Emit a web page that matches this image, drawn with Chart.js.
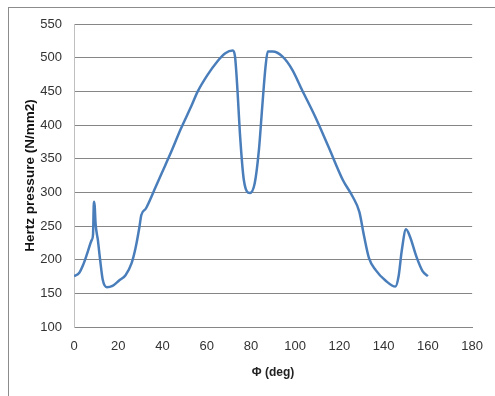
<!DOCTYPE html>
<html>
<head>
<meta charset="utf-8">
<script src="https://cdn.jsdelivr.net/npm/chart.js@4.4.1/dist/chart.umd.min.js"></script>
<style>
  html, body { margin: 0; padding: 0; background: #fff; overflow: hidden; }
  #frame { position: absolute; left: 8px; top: 7px; width: 520px; height: 420px; border: 1px solid #8c8c8c; box-sizing: border-box; }
  #wrap { position: absolute; left: 0; top: 0; width: 495px; height: 396px; }
</style>
</head>
<body>
<div id="frame"></div>
<div id="wrap"><canvas id="c" width="495" height="396"></canvas></div>
<script>
const phi = [0, 2.4, 4.1, 5.9, 8.0, 8.6, 9.0, 9.35, 9.75, 10.8, 11.8, 13, 14.8, 17.4, 20.4, 23.3, 26, 27.8, 29.6, 30.4, 32.5, 34.4, 36.3, 39.6, 44, 48.4, 52.9, 55.9, 60.3, 64.7, 68.4, 71.8, 72.8, 73.9, 75, 76.8, 79.5, 81.7, 83.6, 85.1, 86.6, 87.6, 89.8, 94.3, 98.7, 103.1, 109, 115, 121.6, 126, 129, 131.2, 133.4, 136.4, 140.8, 145.3, 146.7, 148.2, 150.1, 151.9, 154.8, 157.5, 160];
const pressure = [175.5, 180.5, 192, 208.5, 229, 237, 286, 280, 254, 229, 200, 170, 159, 161, 169, 177, 194.5, 217, 249, 266, 276, 289, 303.5, 328, 360.5, 395, 427, 449.5, 474, 494, 506.5, 510.5, 501.5, 452, 388, 318, 299, 313.5, 363, 427, 487, 509, 509, 501.5, 482, 452, 412.5, 368, 318, 293.5, 271, 234, 202, 184.5, 169, 160, 174.5, 214, 245, 234, 204.5, 183.5, 175.5];
const xTitle = 'Φ (deg)';
const yTitle = 'Hertz pressure (N/mm2)';

const points = phi.map((x, i) => ({ x: x, y: pressure[i] }));
const tickFont = { family: '"Liberation Sans Narrow", "Liberation Sans", Arial, sans-serif', size: 13 };

new Chart(document.getElementById('c'), {
  type: 'scatter',
  data: {
    datasets: [{
      data: points,
      showLine: true,
      borderColor: '#4a7ebb',
      borderWidth: 2.5,
      pointRadius: 0,
      cubicInterpolationMode: 'monotone',
      fill: false
    }]
  },
  options: {
    responsive: false,
    animation: false,
    plugins: { legend: { display: false }, tooltip: { enabled: false } },
    layout: { padding: { left: 0, top: 24, right: 15, bottom: 0 } },
    scales: {
      x: {
        type: 'linear',
        min: 0, max: 180,
        afterFit: s => { s.height = 69; },
        ticks: { stepSize: 20, padding: 12, color: '#333', font: tickFont, maxRotation: 0 },
        grid: { display: false, drawTicks: false },
        border: { display: true, color: '#868686', width: 1 },
        title: { display: true, text: xTitle, color: '#222', font: { family: '"Liberation Sans", Arial, sans-serif', size: 12, weight: 700 }, padding: { top: 0, bottom: 16 } }
      },
      y: {
        min: 100, max: 550,
        afterFit: s => { s.width = 74; },
        ticks: { stepSize: 50, padding: 12, color: '#333', font: tickFont },
        grid: { color: '#868686', lineWidth: 1, drawTicks: false },
        border: { display: true, color: '#c0c0c0', width: 1 },
        title: { display: true, text: yTitle, color: '#111', font: { family: '"Liberation Sans", Arial, sans-serif', size: 13.5, weight: 700 }, padding: { top: 22, bottom: 0 } }
      }
    }
  }
});
</script>
</body>
</html>
